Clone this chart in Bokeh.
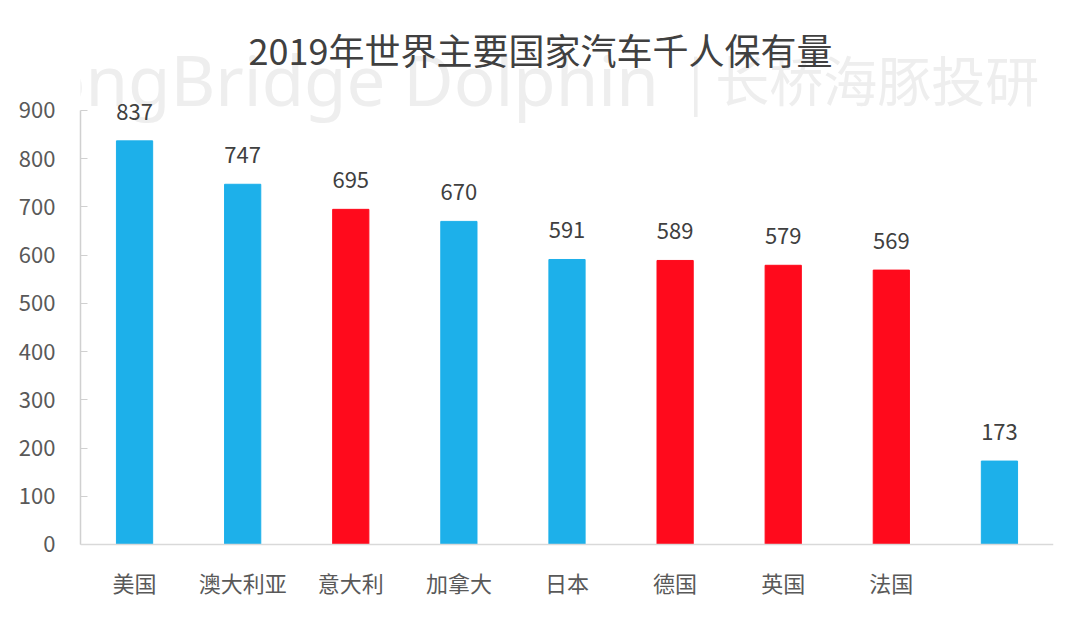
from bokeh.plotting import figure
from bokeh.models import ColumnDataSource, LabelSet, Label, Range1d, FixedTicker, Span
from bokeh.core.properties import value
from bokeh.embed import file_html
from bokeh.resources import INLINE

title_text = "2019年世界主要国家汽车千人保有量"
countries = ["美国", "澳大利亚", "意大利", "加拿大", "日本", "德国", "英国", "法国", "中国"]
values = [837, 747, 695, 670, 591, 589, 579, 569, 173]
groups = ["blue", "blue", "red", "blue", "blue", "red", "red", "red", "blue"]
label_shown = [True, True, True, True, True, True, True, True, False]  # last one hidden under a watermark
y_ticks = [0, 100, 200, 300, 400, 500, 600, 700, 800, 900]

palette = {"blue": "#1DB0EA", "red": "#FF0A1C"}
FONT = "Noto Sans CJK SC"

src = ColumnDataSource(dict(
    x=countries,
    top=values,
    color=[palette[g] for g in groups],
    label=[str(v) for v in values],
    cat=[c if s else "" for c, s in zip(countries, label_shown)],
    zero=[0] * len(values),
))

p = figure(x_range=countries, y_range=Range1d(-143.1, 1119.8),
           width=1080, height=617, output_backend="svg", toolbar_location=None,
           x_axis_location=None,
           min_border_left=80, min_border_right=27, min_border_top=4, min_border_bottom=4)
p.outline_line_color = None
p.background_fill_color = "white"
p.xgrid.grid_line_color = None
p.ygrid.grid_line_color = None

# watermark (faint)
wm1 = Label(x=7 - 80, y=613 - 78, x_units="screen", y_units="screen",
            text="LongBridge Dolphin", text_font="Noto Sans",
            text_font_size="69px", text_color="#eeeeee", level="underlay",
            text_baseline="middle")
wm2 = Label(x=688 - 80, y=613 - 78, x_units="screen", y_units="screen",
            text="|  长桥海豚投研", text_font=FONT,
            text_font_size="54px", text_color="#eeeeee", level="underlay",
            text_baseline="middle")
p.add_layout(wm1)
p.add_layout(wm2)

p.vbar(x="x", top="top", width=0.335, color="color", source=src)

baseline = Span(location=0, dimension="width", line_color="#d9d9d9", line_width=1.5)
p.add_layout(baseline)

labels = LabelSet(x="x", y="top", text="label", source=src, text_align="center",
                  text_baseline="middle", y_offset=29, text_font=value(FONT),
                  text_font_size="22px", text_color="#404040")
p.add_layout(labels)

cats = LabelSet(x="x", y="zero", text="cat", source=src, text_align="center",
                text_baseline="middle", y_offset=-38, text_font=value(FONT),
                text_font_size="22px", text_color="#595959")
p.add_layout(cats)

title = Label(x=540 - 80, y=613 - 48, x_units="screen", y_units="screen", text=title_text,
              text_font=FONT, text_font_size="36px", text_color="#404040",
              text_align="center", text_baseline="middle")
p.add_layout(title)

p.yaxis.bounds = (0, 900)
p.yaxis.ticker = FixedTicker(ticks=y_ticks)
p.yaxis.axis_line_color = "#d0d0d0"
p.yaxis.axis_line_width = 1.5
p.yaxis.major_tick_line_color = "#d0d0d0"
p.yaxis.major_tick_in = 7
p.yaxis.major_tick_out = 0
p.yaxis.minor_tick_line_color = None
p.yaxis.major_label_text_font = FONT
p.yaxis.major_label_text_font_size = "22px"
p.yaxis.major_label_text_color = "#595959"
p.yaxis.major_label_standoff = 25

open("out.html", "w").write(file_html(p, INLINE))
